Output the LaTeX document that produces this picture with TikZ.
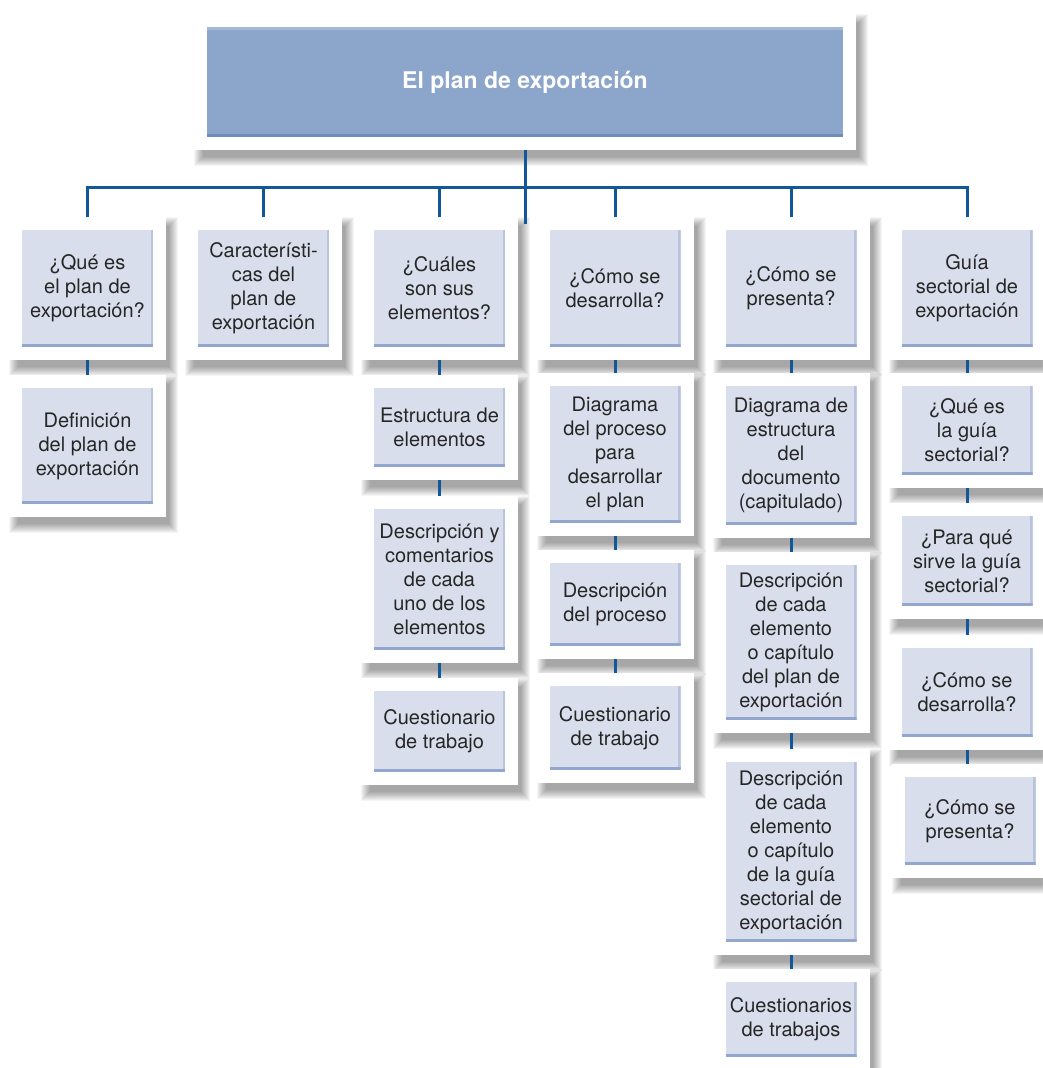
\documentclass[tikz,border=0pt]{standalone}
\usepackage{fontspec}
\setmainfont{TeX Gyre Heros}

\definecolor{linkblue}{RGB}{17,87,154}
\definecolor{cellfill}{RGB}{217,222,236}
\definecolor{cellbase}{RGB}{146,166,206}
\definecolor{cellside}{RGB}{184,195,221}
\definecolor{headfill}{RGB}{139,165,203}
\definecolor{headtop}{RGB}{166,184,215}
\definecolor{headbase}{RGB}{110,140,190}
\definecolor{inktext}{RGB}{38,38,38}

\tikzset{
  outerbox/.style={fill=white, draw=none, minimum width=157pt, inner sep=0pt},
  shadowlayer/.style={fill=black, draw=none, opacity=0.04},
  innerbox/.style={fill=cellfill, draw=none, minimum width=131pt, inner sep=0pt,
    align=center, text=inktext, font=\fontsize{20}{24}\selectfont,
    path picture={
      \fill[cellside] ([xshift=-2.5pt]path picture bounding box.north east)
        rectangle (path picture bounding box.south east);
      \fill[cellbase] (path picture bounding box.south west)
        rectangle ([yshift=3pt]path picture bounding box.south east);
    }},
  headinner/.style={fill=headfill, draw=none, minimum width=636pt, minimum height=110pt,
    inner sep=0pt, text=white, font=\bfseries\fontsize{23}{27}\selectfont,
    path picture={
      \fill[headtop] (path picture bounding box.north west)
        rectangle ([yshift=-3pt]path picture bounding box.north east);
      \fill[headbase] (path picture bounding box.south west)
        rectangle ([yshift=3pt]path picture bounding box.south east);
    }},
  conn/.style={draw=linkblue, line width=3pt},
}

% soft shadow under a frame: left, top, right, bottom
\newcommand\softshadow[4]{%
  \foreach \k in {0,...,9}{%
    \fill[shadowlayer] ({#1+\k},{#2+\k}) rectangle ({#3+12-\k},{#4+16-\k});
  }%
}

% one framed entry: name, centre x, top, bottom, text
\newcommand\entry[5]{%
  \pgfmathsetmacro\eh{#4-#3}%
  \pgfmathsetmacro\ec{(#3+#4)/2}%
  \pgfmathsetmacro\el{#2-78.5}%
  \pgfmathsetmacro\er{#2+78.5}%
  \softshadow{\el}{#3}{\er}{#4}
  \node[outerbox, minimum height=\eh pt] (#1) at (#2,\ec) {};
  \node[innerbox, minimum height=\eh pt-26pt] (#1-in) at (#1.center) {#5};
}

\begin{document}
\begin{tikzpicture}[x=1pt, y=-1pt]
\useasboundingbox[fill=white] (0,0) rectangle (1042,1068);

% heading
\softshadow{194}{14}{856}{150}
\node[outerbox, minimum width=662pt, minimum height=136pt] (head) at (525,82) {};
\node[headinner] (head-in) at (head.center) {El plan de exportación};

% column 1
\entry{a1}{87.5}{217}{360}{¿Qué es\\el plan de\\exportación?}
\entry{a2}{87.5}{375}{517}{Definición\\del plan de\\exportación}

% column 2
\entry{b1}{263.5}{217}{360}{Característi-\\cas del\\plan de\\exportación}

% column 3
\entry{c1}{439.5}{217}{360}{¿Cuáles\\son sus\\elementos?}
\entry{c2}{439.5}{375}{480}{Estructura de\\elementos}
\entry{c3}{439.5}{496}{663}{Descripción y\\comentarios\\de cada\\uno de los\\elementos}
\entry{c4}{439.5}{678}{785}{Cuestionario\\de trabajo}

% column 4
\entry{d1}{615}{217}{360}{¿Cómo se\\desarrolla?}
\entry{d2}{615}{373}{536}{Diagrama\\del proceso\\para\\desarrollar\\el plan}
\entry{d3}{615}{550}{659}{Descripción\\del proceso}
\entry{d4}{615}{673}{783}{Cuestionario\\de trabajo}

% column 5
\entry{e1}{791}{217}{360}{¿Cómo se\\presenta?}
\entry{e2}{791}{373}{538}{Diagrama de\\estructura\\del\\documento\\(capitulado)}
\entry{e3}{791}{552}{733}{Descripción\\de cada\\elemento\\o capítulo\\del plan de\\exportación}
\entry{e4}{791}{749}{955}{Descripción\\de cada\\elemento\\o capítulo\\de la guía\\sectorial de\\exportación}
\entry{e5}{791}{969}{1070}{Cuestionarios\\de trabajos}

% column 6
\entry{f1}{967}{217}{360}{Guía\\sectorial de\\exportación}
\entry{f2}{967}{373}{488}{¿Qué es\\la guía\\sectorial?}
\entry{f3}{967}{503}{619}{¿Para qué\\sirve la guía\\sectorial?}
\entry{f4}{967}{635}{750}{¿Cómo se\\desarrolla?}
\entry{f5}{970}{764}{878}{¿Cómo se\\presenta?}

% connectors
\coordinate (bus) at (525,187);
\coordinate (tail) at (525,224);
\draw[conn] (head.south) -- (tail);
\draw[conn] (a1.north) |- (bus) -| (f1.north);
\foreach \n in {b1,c1,d1,e1} \draw[conn] (\n.north) -- (\n.north |- bus);

\draw[conn] (a1.south) -- (a2.north);
\draw[conn] (c1.south) -- (c2.north);
\draw[conn] (c2.south) -- (c3.north);
\draw[conn] (c3.south) -- (c4.north);
\draw[conn] (d1.south) -- (d2.north);
\draw[conn] (d2.south) -- (d3.north);
\draw[conn] (d3.south) -- (d4.north);
\draw[conn] (e1.south) -- (e2.north);
\draw[conn] (e2.south) -- (e3.north);
\draw[conn] (e3.south) -- (e4.north);
\draw[conn] (e4.south) -- (e5.north);
\draw[conn] (f1.south) -- (f2.north);
\draw[conn] (f2.south) -- (f3.north);
\draw[conn] (f3.south) -- (f4.north);
\draw[conn] (f4.south) -- (f5.north -| f4.south);
\end{tikzpicture}
\end{document}
